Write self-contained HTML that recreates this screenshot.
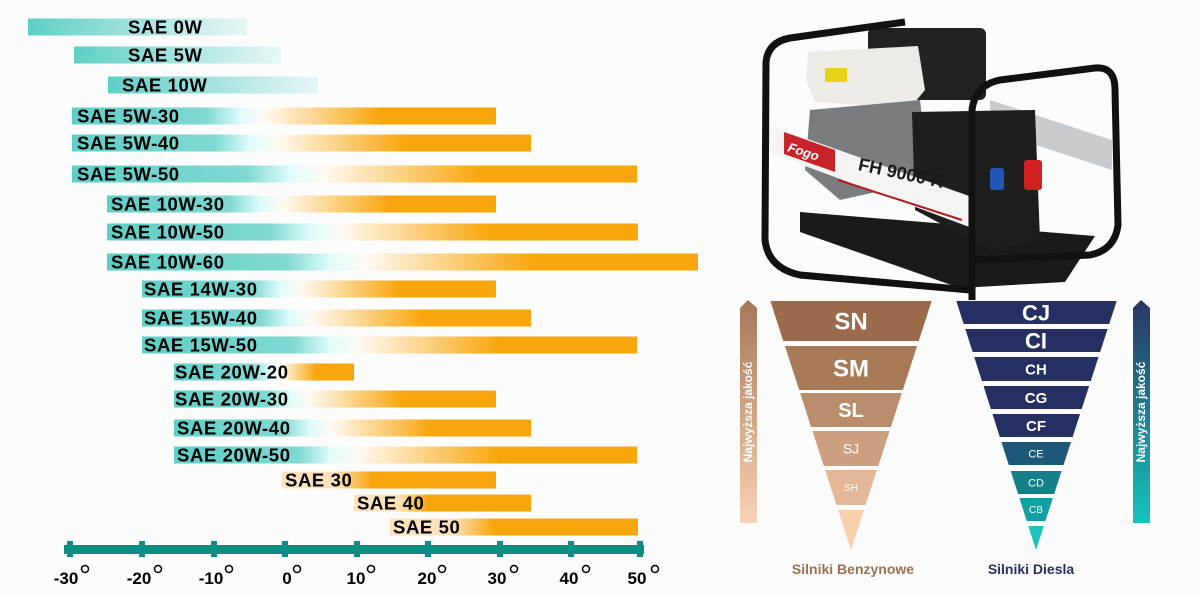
<!DOCTYPE html>
<html><head><meta charset="utf-8"><style>
html,body{margin:0;padding:0;background:#fcfcfc;}
svg{display:block;}
text{font-family:"Liberation Sans",Arial,sans-serif;}
</style></head><body>
<svg width="1200" height="595" viewBox="0 0 1200 595" xmlns="http://www.w3.org/2000/svg">
<defs>
<linearGradient id="ab" x1="0" y1="0" x2="0" y2="1"><stop offset="0" stop-color="#a6775a"/><stop offset="1" stop-color="#f7d2b4"/></linearGradient>
<linearGradient id="ad" x1="0" y1="0" x2="0" y2="1"><stop offset="0" stop-color="#2a3566"/><stop offset="1" stop-color="#14c4bc"/></linearGradient>
</defs>
<rect width="1200" height="595" fill="#fcfcfc"/>
<g id="bars"></g>
<!-- axis -->
<rect x="64" y="545" width="580" height="9" fill="#0a8f82"/>
<g fill="#0a8f82">
<rect x="67" y="541" width="6" height="16"/><rect x="139" y="541" width="6" height="16"/><rect x="211" y="541" width="6" height="16"/><rect x="282" y="541" width="6" height="16"/><rect x="354" y="541" width="6" height="16"/><rect x="425" y="541" width="6" height="16"/><rect x="497" y="541" width="6" height="16"/><rect x="568" y="541" width="6" height="16"/><rect x="637" y="541" width="6" height="16"/>
</g>
<g font-weight="bold" font-size="17" fill="#000" text-anchor="middle">
<text x="66" y="584">-30</text><text x="139" y="584">-20</text><text x="211" y="584">-10</text><text x="287" y="584">0</text><text x="356" y="584">10</text><text x="427" y="584">20</text><text x="497" y="584">30</text><text x="569" y="584">40</text><text x="637" y="584">50</text>
</g>
<g fill="none" stroke="#000" stroke-width="1.5">
<circle cx="85" cy="569" r="3.5"/><circle cx="158" cy="569" r="3.5"/><circle cx="229" cy="569" r="3.5"/><circle cx="297" cy="569" r="3.5"/><circle cx="371" cy="569" r="3.5"/><circle cx="442" cy="569" r="3.5"/><circle cx="514" cy="569" r="3.5"/><circle cx="586" cy="569" r="3.5"/><circle cx="655" cy="569" r="3.5"/>
</g>
<!-- generator -->
<g>
<polygon points="800,212 1095,236 1065,282 960,288 800,232" fill="#1a1a1a"/>
<polygon points="990,100 1112,140 1112,170 990,130" fill="#c9cccf"/>
<rect x="868" y="28" width="118" height="72" rx="6" fill="#222"/>
<polygon points="808,52 918,46 925,90 910,108 815,102 806,80" fill="#ecebe6"/>
<rect x="825" y="68" width="22" height="14" fill="#e8d21a"/>
<polygon points="810,110 920,100 930,180 840,200 805,170" fill="#7a7d80"/>
<polygon points="912,112 1035,110 1040,240 990,250 915,210" fill="#1e1e1e"/>
<rect x="990" y="168" width="14" height="22" rx="3" fill="#2456b8"/>
<rect x="1024" y="160" width="18" height="30" rx="3" fill="#d02020"/>
<polygon points="762,123 972,197 972,228 762,150" fill="#f4f4f4"/>
<polygon points="784,132 835,150 835,172 784,154" fill="#c6242a"/>
<text x="788" y="155" font-size="13" font-style="italic" font-weight="bold" fill="#fff" transform="rotate(18 800 150)">Fogo</text>
<text x="856" y="177" font-size="18" font-weight="bold" fill="#1a1a1a" transform="rotate(12 890 180)">FH 9000 R</text>
<line x1="838" y1="180" x2="962" y2="220" stroke="#b02020" stroke-width="2"/>
<path d="M905,22 L790,38 Q768,42 766,62 L765,240 Q768,268 800,275 L970,290" fill="none" stroke="#111" stroke-width="7"/>
<path d="M972,300 L972,110 Q975,85 1000,80 L1095,68 Q1115,66 1115,90 L1118,225 Q1115,250 1090,255 L975,260" fill="none" stroke="#111" stroke-width="7"/>
</g>
<!-- arrows -->
<polygon points="740,523 740,308 748,300 757,308 757,523" fill="url(#ab)"/>
<polygon points="1133,523 1133,308 1141,300 1150,308 1150,523" fill="url(#ad)"/>
<text transform="translate(752,412) rotate(-90)" text-anchor="middle" font-size="12" font-weight="bold" fill="#fff">Najwyższa jakość</text>
<text transform="translate(1145,412) rotate(-90)" text-anchor="middle" font-size="12" font-weight="bold" fill="#fff">Najwyższa jakość</text>
<g id="pyr"></g>
<text x="853" y="574" text-anchor="middle" font-size="14" font-weight="bold" fill="#9b7155">Silniki Benzynowe</text>
<text x="1031" y="574" text-anchor="middle" font-size="14" font-weight="bold" fill="#2a3060">Silniki Diesla</text>
</svg>
<script>
var ns="http://www.w3.org/2000/svg";
function el(p,t,a,txt){var e=document.createElementNS(ns,t);for(var k in a)e.setAttribute(k,a[k]);if(txt)e.textContent=txt;p.appendChild(e);return e;}
var svg=document.querySelector('svg'),defs=svg.querySelector('defs'),g=document.getElementById('bars');
var B=[["SAE 0W",27,28,247,null,128],["SAE 5W",55,74,281,null,128],["SAE 10W",85,108,318,null,122],
["SAE 5W-30",116,72,496,240,77],["SAE 5W-40",143,72,531,250,77],["SAE 5W-50",174,72,637,290,77],
["SAE 10W-30",204,107,496,260,111],["SAE 10W-50",232,107,638,310,111],["SAE 10W-60",262,107,698,330,111],
["SAE 14W-30",289,142,496,280,144],["SAE 15W-40",318,142,531,290,144],["SAE 15W-50",345,142,637,330,144],
["SAE 20W-20",372,174,354,270,175],["SAE 20W-30",399,174,496,290,175],["SAE 20W-40",428,174,531,310,177],["SAE 20W-50",455,174,637,330,177],
["SAE 30",480,282,496,-1,285],["SAE 40",503,354,531,-1,357],["SAE 50",527,390,638,-1,393]];
B.forEach(function(b,i){
 var x=b[2],w=b[3]-b[2],id='g'+i,gr=el(defs,'linearGradient',{id:id,x1:0,x2:1});
 if(b[4]===null){el(gr,'stop',{offset:0,'stop-color':'#5fcfc6'});el(gr,'stop',{offset:1,'stop-color':'#e8f7f6'});}
 else if(b[4]===-1){el(gr,'stop',{offset:0,'stop-color':'#fbe2bc'});el(gr,'stop',{offset:0.25,'stop-color':'#fbe2bc'});el(gr,'stop',{offset:0.42,'stop-color':'#f9a60c'});el(gr,'stop',{offset:1,'stop-color':'#f9a60c'});}
 else{var f=(b[4]-x)/w;el(gr,'stop',{offset:0,'stop-color':'#5fcfc6'});el(gr,'stop',{offset:f*0.8,'stop-color':'#7fd9d2'});el(gr,'stop',{offset:f,'stop-color':'#dffcfb'});el(gr,'stop',{offset:f+0.06,'stop-color':'#fefaf2'});el(gr,'stop',{offset:Math.min(1,f+(1-f)*0.55),'stop-color':'#f9a60c'});el(gr,'stop',{offset:1,'stop-color':'#f9a60c'});}
 el(g,'rect',{x:x,y:b[1]-8.5,width:w,height:17,fill:'url(#'+id+')'});
 el(g,'text',{x:b[5],y:b[1]+6.5,'font-size':18.5,'font-weight':'bold','letter-spacing':0.6,fill:'#000'},b[0]);
});
var P=document.getElementById('pyr');
function pyr(x0,x1,tx,ty,top,segs){
 var h=ty-top;
 segs.forEach(function(s){
  var a=s[0],b=s[1];
  function L(y){var t=(y-top)/h;return x0+(tx-x0)*t;} function R(y){var t=(y-top)/h;return x1+(tx-x1)*t;}
  var pts=s[4]? [L(a),a,R(a),a,tx,ty] : [L(a),a,R(a),a,R(b),b,L(b),b];
  el(P,'polygon',{points:pts.join(' '),fill:s[2]});
  if(s[3])el(P,'text',{x:tx,y:(a+b)/2+s[5]*0.36,'text-anchor':'middle','font-size':s[5],'font-family':'"DejaVu Sans",sans-serif','font-weight':s[5]>14?'bold':'normal',fill:'#fff'},s[3]);
 });
}
pyr(770,932,851,550,300,[[301,341,'#9b6b4c','SN',0,24],[346,390,'#a97a58','SM',0,24],[393,427,'#b98c6c','SL',0,20],[431,466,'#cc9f80','SJ',0,14],[470,505,'#e2b898','SH',0,10],[510,550,'#f7cfac','',1,0]]);
pyr(956,1117,1036,550,300,[[301,324,'#262f62','CJ',0,22],[329,352,'#262f62','CI',0,22],[357,381,'#262f62','CH',0,15],[386,409,'#262f62','CG',0,15],[414,437,'#262f62','CF',0,15],[442,465,'#1d5878','CE',0,11],[471,494,'#16808a','CD',0,11],[498,521,'#12a0a2','CB',0,10],[526,550,'#1cc4bc','',1,0]]);
</script>
</body></html>
